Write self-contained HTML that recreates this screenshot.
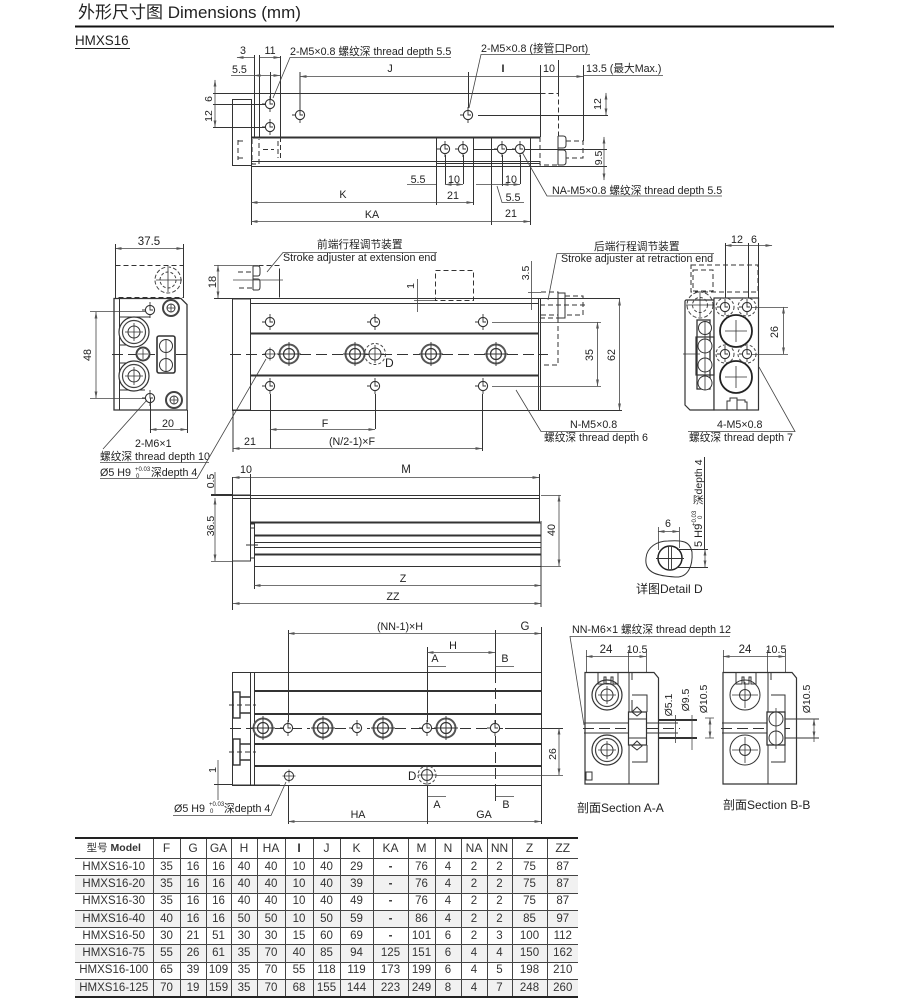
<!DOCTYPE html>
<html lang="zh">
<head>
<meta charset="utf-8">
<title>HMXS16 外形尺寸图 Dimensions</title>
<style>
html,body{margin:0;padding:0;background:#fff}
body{width:906px;height:1001px;position:relative;overflow:hidden;font-family:"Liberation Sans","Noto Sans CJK SC",sans-serif;color:#222}
svg{position:absolute;left:0;top:0}
text{font-family:"Liberation Sans","Noto Sans CJK SC",sans-serif;font-size:10.7px;fill:#222}
.m{text-anchor:middle}
.s{font-size:10.5px}
.l{fill:none;stroke:#333;stroke-width:1}
.t{fill:none;stroke:#333;stroke-width:2}
.f{fill:none;stroke:#444;stroke-width:.8}
.ds{fill:none;stroke:#333;stroke-width:1;stroke-dasharray:5 3}
.da{fill:none;stroke:#444;stroke-width:.8;marker-start:url(#a);marker-end:url(#a)}
.ce{fill:none;stroke:#333;stroke-width:1;stroke-dasharray:11 5}
table{position:absolute;left:75px;top:837px;width:503px;border-collapse:collapse;table-layout:fixed;border-top:2px solid #222;border-bottom:2px solid #222;font-size:11.5px}
td{padding:0;text-align:center;height:16.3px;line-height:15px;border-bottom:1px solid #444;border-left:1px solid #444;color:#333;white-space:nowrap;overflow:hidden}
td:first-child{border-left:none}
tr:first-child td{height:19px;font-size:12px}
tr:nth-child(odd):not(:first-child) td{background:#f1f1f1}
</style>
</head>
<body>
<svg width="906" height="1001" viewBox="0 0 906 1001" xmlns="http://www.w3.org/2000/svg">
<defs>
<marker id="a" markerWidth="7" markerHeight="4" refX="6.5" refY="2" orient="auto-start-reverse" markerUnits="userSpaceOnUse"><path d="M0 .6L7 2L0 3.4z" fill="#555"/></marker>
<g id="h"><circle r="4.6" fill="#fff" stroke="#333" stroke-width="1.1"/><path d="M0-8V0H3M-8 0H-4.6M0 4.6V8" fill="none" stroke="#333" stroke-width=".9"/></g>
<g id="b"><circle r="9.5" fill="#fff" stroke="#555" stroke-width="2"/><circle r="5.5" fill="none" stroke="#333" stroke-width="1.2"/><path d="M0-12V12M-12 0H12" stroke="#333" stroke-width=".9"/></g>
<g id="p"><circle r="4.6" fill="#fff" stroke="#333" stroke-width="1"/><path d="M0-6.5V6.5M-6.5 0H6.5" stroke="#333" stroke-width=".8"/></g>
<g id="c"><circle r="15" fill="#fff" stroke="#333" stroke-width="1.2"/><circle r="11.5" fill="none" stroke="#444" stroke-width="1.2"/><circle r="6" fill="none" stroke="#333" stroke-width="1"/><path d="M0-9V9M-9 0H9" stroke="#333" stroke-width=".8"/></g>
</defs>

<!-- header -->
<text x="78" y="18" style="font-size:17px">外形尺寸图 Dimensions (mm)</text>
<path d="M75 26.5H834" stroke="#111" stroke-width="2"/>
<text x="75" y="45" style="font-size:13.4px">HMXS16</text>
<path d="M75 48.5H130" stroke="#222"/>

<!-- ============ TOP VIEW ============ -->
<g>
<rect class="l" x="232.5" y="99.5" width="19" height="66"/>
<path class="l" d="M213 93.5H540M259.5 93.5V137M280.5 56V137M251.5 99V225M251 161.5H540M251 166.5H540M540.5 93V137"/>
<path class="t" d="M252 137.5H540"/>
<path class="l" d="M436.5 137V205M473.5 137V205M491.5 137V225M530.5 137V225M254.5 55V137M259.5 55V94M436 163.5H540"/>
<path class="ds" d="M280.5 137V161M540.5 93.5H558.5V137M540 137V165H558M263 149.5H274M238 140V160"/>
<path class="ds" d="M238 141h5M238 158h5M252 139v25h7v-25M278 141v17"/>
<path class="l" d="M558 136h5q3 0 3 3v6q0 3-3 3h-5M558 150h5q3 0 3 3v9q0 3-3 3h-5M558 136V165"/>
<path class="ds" d="M566 141H583V158H566"/>
<path class="l" d="M558.5 60V93M583.5 65V141"/>
<path class="l" d="M478 115.5H608M473 149.5H607M540 166.5H607M213 104.5H270M213 127.5H270"/>
<path class="ce" d="M536 149.5H578"/>
<path class="l" d="M300 72V115M270.5 72V100"/>
<use href="#h" x="270" y="104"/><use href="#h" x="270" y="127"/><use href="#h" x="300" y="115"/><use href="#h" x="468" y="115"/>
<use href="#h" x="445" y="149"/><use href="#h" x="463" y="149"/><use href="#h" x="502" y="149"/><use href="#h" x="520" y="149"/>
<path class="l" d="M445.5 155V184M463.5 155V184M502.5 155V186M520.5 155V184M468.5 72V108"/>

<text class="m" x="243" y="54">3</text><text class="m" x="270" y="54">11</text>
<path class="da" d="M237 57.5H254M259 57.5H280"/>
<text x="290" y="55">2-M5×0.8 螺纹深 thread depth 5.5</text>
<path class="f" d="M451 57.5H290L273 98"/>
<text x="232" y="73">5.5</text><path class="f" d="M231 75.5H254"/>
<path class="da" d="M254 75.5H280"/>
<text x="481" y="52">2-M5×0.8 (接管口Port)</text><path class="f" d="M590 54.5H481L469 108"/>
<path class="da" d="M300 76.5H468M468 76.5H540M540 76.5H558M558 76.5H583"/>
<path class="l" d="M540.5 65V93"/>
<text class="m" x="390" y="72">J</text><text class="m" x="503" y="72" style="font-weight:700">I</text><text class="m" x="549" y="72">10</text>
<text x="586" y="72">13.5 (最大Max.)</text><path class="f" d="M583 75.5H663"/>
<text class="m s" transform="translate(212 99) rotate(-90)">6</text>
<text class="m s" transform="translate(212 116) rotate(-90)">12</text>
<path class="da" d="M215 80V93M215 93V104M215 104V127"/>
<text class="m s" transform="translate(601 104) rotate(-90)">12</text><path class="da" d="M606 93V115"/>
<text class="m s" transform="translate(602 158) rotate(-90)">9.5</text><path class="da" d="M604 137V149M604 166V180"/><path class="f" d="M604 149V166"/>
<text class="m" x="418" y="183">5.5</text><path class="f" d="M407 184.5H436"/>
<text class="m" x="454" y="183">10</text><path class="da" d="M445 184.5H463"/>
<text class="m" x="511" y="183">10</text><path class="da" d="M502 184.5H520"/><path class="f" d="M476 184.5H502"/>
<text class="m" x="343" y="198">K</text><path class="da" d="M251 202.5H436M436 202.5H473"/>
<text class="m" x="453" y="199">21</text>
<text class="m" x="513" y="201">5.5</text><path class="f" d="M497 186L502 202.5H524"/>
<text class="m" x="372" y="218">KA</text><path class="da" d="M251 221.5H491M491 221.5H530"/>
<text class="m" x="511" y="217">21</text>
<text x="552" y="194">NA-M5×0.8 螺纹深 thread depth 5.5</text><path class="f" d="M522 152L547 196H722"/>
</g>

<!-- ============ END VIEW LEFT ============ -->
<g>
<text class="m" x="149" y="245" style="font-size:11.5px">37.5</text>
<path class="da" d="M115 248.5H183"/>
<path class="l" d="M115.5 244V298M183.5 244V298"/>
<rect class="ds" x="115.5" y="265.5" width="68" height="32"/>
<circle cx="168" cy="280" r="13" fill="none" stroke="#444" stroke-dasharray="4 2"/><circle cx="168" cy="280" r="8" fill="none" stroke="#444" stroke-dasharray="3 2"/>
<path d="M168 268V292M156 280H182" stroke="#333" stroke-width=".8"/>
<path d="M114 298.5H181L187 304.5V410H114Z" fill="#fff" stroke="#333" stroke-width="1.3"/>
<path class="l" d="M119.5 298.5V410M119 317H150M119 345H135M119 363H135M119 390H145"/>
<path class="f" d="M90 311.5H146M90 398.5H146"/>
<path class="ce" d="M112 354.5H190"/>
<use href="#h" x="150" y="310"/><use href="#h" x="150" y="398"/>
<g><circle cx="171" cy="308" r="8" fill="#fff" stroke="#444" stroke-width="2"/><circle cx="171" cy="308" r="4" fill="none" stroke="#333"/><path d="M167 308H175M171 304V312" stroke="#333" stroke-width=".8"/></g>
<g><circle cx="174" cy="400" r="8" fill="#fff" stroke="#444" stroke-width="2"/><circle cx="174" cy="400" r="4" fill="none" stroke="#333"/><path d="M170 400H178M174 396V404" stroke="#333" stroke-width=".8"/></g>
<use href="#c" x="134" y="332"/><use href="#c" x="134" y="376"/>
<circle cx="143" cy="354" r="6.5" fill="#fff" stroke="#444" stroke-width="2"/><path d="M143 349V359M138 354H148" stroke="#333" stroke-width=".8"/>
<rect x="157" y="336" width="18" height="37" rx="2" fill="#fff" stroke="#333" stroke-width="1.6"/>
<circle cx="166" cy="346" r="6.5" fill="#fff" stroke="#333"/><circle cx="166" cy="365" r="6.5" fill="#fff" stroke="#333"/><path d="M166 339V372" stroke="#333" stroke-width=".8"/>
<text class="m" transform="translate(91 355) rotate(-90)">48</text>
<path class="da" d="M96 312V398"/>
<text class="m" x="168" y="427">20</text><path class="da" d="M150 429.5H187"/>
<path class="l" d="M150.5 398V433M187.5 410V433"/>
<text x="135" y="447">2-M6×1</text>
<text x="100" y="460">螺纹深 thread depth 10</text>
<text x="100" y="476">Ø5 H9</text><text x="135" y="471" style="font-size:6px">+0.03</text><text x="136" y="478" style="font-size:6px">0</text><text x="151" y="476">深depth 4</text>
<path class="f" d="M103 449L147 400M100 478.5H197L266 359"/>
<path class="f" d="M100 462.5H209"/>
</g>

<!-- ============ SIDE VIEW MID ============ -->
<g>
<rect class="l" x="232.5" y="299" width="18" height="111"/>
<path class="l" d="M214 298.5H620M250 303.5H538M232 410.5H622M538.5 298V410M540.5 298V410"/>
<path class="t" d="M250 333.5H538M250 375.5H538"/>
<path class="ds" d="M238 272H253V288H238M258.5 265.5H279.5V298M279.5 272V295"/>
<path class="l" d="M253 266h5q2 0 2 3v4q0 3-2 3h-5M253 279h5q2 0 2 3v5q0 3-2 3h-5M253 266V290"/>
<path class="f" d="M214 265.5H258M233 280H283"/>
<text class="m" transform="translate(217 282) rotate(-90)" style="font-size:11px" dy="-1">18</text>
<path class="da" d="M218 265V298"/>
<text x="317" y="248">前端行程调节装置</text>
<path class="f" d="M437 252.5H283L267 272"/>
<text x="283" y="261">Stroke adjuster at extension end</text>
<rect class="ds" x="435.5" y="270.5" width="38" height="30"/>
<path class="f" d="M414 300.5H435"/>
<text class="m s" transform="translate(414 286) rotate(-90)">1</text>
<path class="f" d="M417.5 279V312"/>
<text class="m s" transform="translate(529 273) rotate(-90)">3.5</text>
<path class="f" d="M531.5 261V310M528 292.5H541"/>
<path class="ds" d="M541 292H558V318H541M541 315H558M558 318V365H541M565 296H583V315H565M540 305H585"/>
<path class="l" d="M558 293H565V318H558Z"/>
<text x="594" y="250">后端行程调节装置</text>
<path class="f" d="M714 253.5H557L548 300"/>
<text x="561" y="262">Stroke adjuster at retraction end</text>
<path class="ce" d="M230 354.5H280M300 354.5H345M365 354.5H420M442 354.5H486M507 354.5H548"/>
<use href="#h" x="270" y="322"/><use href="#h" x="375" y="322"/><use href="#h" x="483" y="322"/>
<use href="#h" x="270" y="386"/><use href="#h" x="375" y="386"/><use href="#h" x="483" y="386"/>
<use href="#p" x="270" y="354"/>
<use href="#b" x="289" y="354"/><use href="#b" x="355" y="354"/><use href="#b" x="431" y="354"/><use href="#b" x="496" y="354"/>
<circle cx="375" cy="354" r="6" fill="#fff" stroke="#333"/><circle cx="375" cy="354" r="10.5" fill="none" stroke="#444" stroke-dasharray="3 2"/><path d="M375 345V363M366 354H384" stroke="#333" stroke-width=".8"/>
<text x="385" y="367" style="font-size:12px">D</text>
<path class="f" d="M492 322.5H601M492 386.5H601"/>
<text class="m" transform="translate(593 355) rotate(-90)">35</text><path class="da" d="M597.5 322V386"/>
<text class="m" transform="translate(615 355) rotate(-90)">62</text><path class="da" d="M619.5 299V410"/>
<path class="l" d="M270.5 394V449M375.5 394V429M482.5 394V451M233 410V452"/>
<text class="m" x="325" y="427">F</text><path class="da" d="M270 429.5H375"/>
<text class="m" x="250" y="445">21</text><path class="da" d="M233 448.5H270M270 448.5H482"/>
<text class="m" x="352" y="445">(N/2-1)×F</text>
<text x="570" y="428">N-M5×0.8</text>
<path class="f" d="M516 390L541 431.5H635"/>
<text x="544" y="441">螺纹深 thread depth 6</text>
</g>

<!-- ============ RIGHT END VIEW ============ -->
<g>
<text class="m" x="737" y="243">12</text><text class="m" x="754" y="243">6</text>
<path class="da" d="M725 245.5H748M758 245.5H772"/><path class="f" d="M748 245.5H758"/>
<path class="l" d="M725.5 243V298M748.5 243V298M758.5 243V298"/>
<rect class="ds" x="691" y="265" width="67" height="27"/>
<rect class="ds" x="693" y="270" width="20" height="21"/>
<path d="M686 300H714V410H690L685 405V301Z" fill="#fff" stroke="#333" stroke-width="1.2"/>
<rect x="714" y="298" width="44.5" height="112" fill="#fff" stroke="#333" stroke-width="1.2"/>
<circle cx="700" cy="305" r="13" fill="none" stroke="#444" stroke-dasharray="4 2"/><circle cx="700" cy="305" r="7.5" fill="none" stroke="#444" stroke-dasharray="3 2"/>
<path d="M686 305H714M700 293V317" stroke="#333" stroke-width=".8"/>
<rect x="697" y="320" width="13" height="69" fill="#fff" stroke="#333" stroke-width="1.3"/>
<rect x="696" y="337" width="18" height="38" fill="none" stroke="#333" stroke-width="1.2"/>
<g fill="#fff" stroke="#333"><circle cx="705" cy="328" r="6.5"/><circle cx="705" cy="346" r="7"/><circle cx="705" cy="365" r="7"/><circle cx="705" cy="383" r="7"/></g>
<path d="M705 321V390M683 354H700" stroke="#333" stroke-width=".8"/>
<circle cx="736" cy="331" r="16" fill="#fff" stroke="#222" stroke-width="1.8"/><circle cx="736" cy="377" r="16" fill="#fff" stroke="#222" stroke-width="1.8"/>
<g fill="none" stroke="#444" stroke-dasharray="3 2"><circle cx="725" cy="307" r="9"/><circle cx="747" cy="307" r="9"/><circle cx="725" cy="354" r="9"/><circle cx="747" cy="354" r="9"/></g>
<use href="#h" x="725" y="307"/><use href="#h" x="747" y="307"/><use href="#h" x="725" y="354"/><use href="#h" x="747" y="354"/>
<path d="M736 320V342M725 331H747M736 366V388M725 377H747" stroke="#333" stroke-width=".8"/>
<path class="l" d="M727 410V401H730V398H737V410M737 410V400H745V402H747V410"/>
<path class="f" d="M752 307.5H788M752 354.5H788"/>
<text class="m" transform="translate(778 332) rotate(-90)">26</text><path class="da" d="M783.5 307V354"/>
<text x="717" y="428">4-M5×0.8</text>
<path class="f" d="M759 367L795 431.5H688"/>
<text x="689" y="441">螺纹深 thread depth 7</text>
</g>

<!-- ============ FRONT LOWER (SIDE) ============ -->
<g>
<rect class="l" x="232.5" y="495" width="18" height="66"/>
<path class="l" d="M232 495.5H539M232 498.5H539M539.5 474V523M232.5 477V610M250.5 474V495"/>
<path class="t" d="M250 522.5H539"/>
<rect class="l" x="254.5" y="523" width="286.5" height="43.5"/>
<path class="l" d="M250 524H254M250 558H254M250 528H254M246 545H258M254.5 566V589M541 566V607M541 521V523"/>
<path class="l" d="M254 542.5H541M254 547.5H541"/>
<path class="t" d="M254 535.5H541M254 554.5H541"/>
<text class="m" x="246" y="473">10</text><text class="m" x="406" y="473" style="font-size:11.5px">M</text>
<path class="da" d="M233 477.5H250M250 477.5H539"/>
<text class="m s" transform="translate(214 481) rotate(-90)">0.5</text>
<text class="m s" transform="translate(214 526) rotate(-90)">36.5</text>
<path class="t" d="M211 495H232"/>
<path class="f" d="M211 561.5H232"/>
<path class="da" d="M215 498V561"/><path class="f" d="M215 472V495"/>
<path class="f" d="M541 495.5H561M541 566.5H561"/>
<text class="m" transform="translate(555 530) rotate(-90)">40</text><path class="da" d="M559 495V566"/>
<text class="m" x="403" y="582">Z</text><path class="da" d="M254 585.5H541"/>
<text class="m" x="393" y="600">ZZ</text><path class="da" d="M233 603.5H541"/>
</g>

<!-- ============ DETAIL D ============ -->
<g>
<text class="m" x="668" y="527">6</text>
<path class="da" d="M658 531.5H679"/>
<path class="f" d="M658.5 527V550M679.5 527V548"/>
<path class="l" d="M646 558C647 547 657 541 668 541C682 540 690 541 692 552C693 566 688 578 675 577C660 576 644 574 646 558Z"/>
<circle cx="670" cy="558" r="12" fill="#fff" stroke="#222" stroke-width="1.5"/>
<path d="M668.5 547V569M671.5 547V569M656 558.5H684" stroke="#333" stroke-width=".9"/>
<text transform="translate(702 547) rotate(-90)" style="font-size:11px">5 H9</text>
<text transform="translate(696 526) rotate(-90)" style="font-size:6px">+0.03</text>
<text transform="translate(702 519) rotate(-90)" style="font-size:6px">0</text>
<text transform="translate(702 505) rotate(-90)" style="font-size:10.5px">深depth 4</text>
<path class="l" d="M704.5 457V549M677 549.5H708M677 567.5H708"/>
<path class="da" d="M705 549V567"/>
<text x="636" y="593" style="font-size:12px">详图Detail D</text>
</g>

<!-- ============ LOWER VIEW ============ -->
<g>
<rect class="l" x="232.5" y="672.5" width="309" height="113"/>
<path class="l" d="M250.5 672V785M254.5 672V785"/>
<path class="t" d="M254 691H541M254 714H541M254 744H541M254 766H541"/>
<rect x="233" y="692" width="7" height="26" fill="#fff" stroke="#333" stroke-width="1.4"/>
<rect x="233" y="739" width="7" height="26" fill="#fff" stroke="#333" stroke-width="1.4"/>
<path d="M240 697H250M240 713H250M240 744H250M240 760H250" stroke="#333" stroke-width="1.4"/>
<path class="ds" d="M229 705H256M229 752H256"/>
<path class="l" d="M214 784.5H232M232 785H280"/>
<path class="ce" d="M230 728.5H275M275 728.5H310M335 728.5H370M395 728.5H436M460 728.5H505"/>
<path class="l" d="M505 728.5H563"/>
<path class="l" d="M288.5 630V722M427.5 647V722M495.5 630V672"/>
<path class="ce" d="M495.5 672V790"/>
<path class="l" d="M541.5 627V672M288.5 786V824M427.5 786V824M541.5 786V824M495.5 790V801"/>
<use href="#h" x="288" y="728"/><use href="#h" x="357" y="728"/><use href="#h" x="427" y="728"/><use href="#h" x="495" y="728"/>
<use href="#b" x="263" y="728"/><use href="#b" x="323" y="728"/><use href="#b" x="383" y="728"/><use href="#b" x="446" y="728"/>
<use href="#p" x="289" y="776"/>
<circle cx="427" cy="775" r="5.5" fill="#fff" stroke="#333"/><circle cx="427" cy="775" r="9" fill="none" stroke="#444" stroke-dasharray="3 2"/><path d="M418 775H436M427 766V785" stroke="#333" stroke-width=".8"/>
<text x="408" y="780" style="font-size:11.5px">D</text>
<path class="f" d="M436 775.5H563"/>
<text class="m" x="400" y="630">(NN-1)×H</text>
<path class="da" d="M288 633.5H495M495 633.5H541"/>
<text class="m" x="525" y="630" style="font-size:11.5px">G</text>
<text class="m" x="453" y="649">H</text><path class="da" d="M427 652.5H495"/>
<text class="m" x="435" y="662">A</text><text class="m" x="505" y="662">B</text>
<path class="f" d="M427 666.5H446M495 666.5H514"/>
<text class="m" transform="translate(557 754) rotate(-90)" style="font-size:10.5px" dy="-1">26</text>
<path class="da" d="M559 728V775"/>
<text class="m s" transform="translate(216 770) rotate(-90)">1</text>
<path class="f" d="M218 760V800"/>
<path class="f" d="M427 796.5H446M495 796.5H514"/>
<text class="m" x="437" y="808">A</text><text class="m" x="506" y="808">B</text>
<text class="m" x="358" y="818">HA</text><text class="m" x="484" y="818">GA</text>
<path class="da" d="M288 821.5H427M427 821.5H541"/>
<text x="174" y="812">Ø5 H9</text><text x="209" y="806" style="font-size:6px">+0.03</text><text x="210" y="813" style="font-size:6px">0</text><text x="224" y="812">深depth 4</text>
<path class="f" d="M173 815.5H271L286 782"/>
</g>

<!-- ============ SECTIONS ============ -->
<g>
<text x="572" y="633">NN-M6×1 螺纹深 thread depth 12</text>
<path class="f" d="M730 636.5H570L584 725"/>
<text class="m" x="606" y="653" style="font-size:11.5px">24</text><text class="m" x="637" y="653">10.5</text>
<path class="da" d="M586 656.5H628M628 656.5H646"/>
<path class="f" d="M586.5 650V672M628.5 650V672M646.5 650V712"/>
<path d="M585 672.5H654L658.5 678V784H585Z" fill="#fff" stroke="#333" stroke-width="1.2"/>
<path class="l" d="M629 672.5V712M629 745V784M632 695H647V712M632 762H647V745M632 672V680M632 700V712"/>
<use href="#c" x="607" y="695"/><use href="#c" x="607" y="750"/>
<path class="l" d="M598 672V684H604V677H606V684H611V677H613V684H618V672"/>
<rect class="l" x="586" y="772" width="6" height="8"/>
<path class="ce" d="M583 728.5H680"/>
<path class="l" d="M584 723H678M584 733H678"/>
<path class="t" d="M658 720H697M658 738H697"/>
<rect x="628.5" y="712" width="18" height="33" fill="#fff" stroke="#333" stroke-width="1.2"/>
<path class="l" d="M628 719H646M628 738H646"/>
<path class="l" d="M637 707L642 712L637 716L632 712ZM637 741L642 746L637 750L632 746Z" fill="#fff"/>
<path class="f" d="M675.5 715V743M692 715V750M705 718H714M705 738H714"/>
<path class="da" d="M710 718V738"/>
<text class="m s" transform="translate(672 705) rotate(-90)">Ø5.1</text>
<text class="m s" transform="translate(689 700) rotate(-90)">Ø9.5</text>
<text class="m s" transform="translate(707 699) rotate(-90)">Ø10.5</text>

<text class="m" x="745" y="653" style="font-size:11.5px">24</text><text class="m" x="776" y="653">10.5</text>
<path class="da" d="M723 656.5H767M767 656.5H785"/>
<path class="f" d="M723.5 650V672M767.5 650V672M785.5 650V712"/>
<path d="M723 672.5H792L796.5 678V784H723Z" fill="#fff" stroke="#333" stroke-width="1.2"/>
<path class="l" d="M768 672.5V712M768 745V784M771 695H785V712M771 762H785V745M771 672V680"/>
<g fill="#fff" stroke="#333"><circle cx="745" cy="695" r="15"/><circle cx="745" cy="695" r="5.5"/><circle cx="745" cy="750" r="15"/><circle cx="745" cy="750" r="5.5"/></g>
<path d="M745 682V708M732 695H758M745 737V763M732 750H758" stroke="#333" stroke-width=".8"/>
<path class="l" d="M736 672V684H742V677H744V684H749V677H751V684H756V672"/>
<path class="ce" d="M721 728.5H790"/>
<path class="l" d="M722 723H767M722 733H767M785 719H819M785 738H819"/>
<rect x="767" y="712" width="18" height="33" fill="#fff" stroke="#333" stroke-width="1.3"/>
<circle cx="776" cy="719" r="7" fill="#fff" stroke="#333"/><circle cx="776" cy="738" r="7" fill="#fff" stroke="#333"/>
<path d="M776 708V749" stroke="#333" stroke-width=".8"/>
<path class="da" d="M814 719V738"/><path class="f" d="M814 738V742"/>
<text class="m s" transform="translate(810 699) rotate(-90)">Ø10.5</text>

<text x="577" y="812" style="font-size:12px">剖面Section A-A</text>
<text x="723" y="809" style="font-size:12px">剖面Section B-B</text>
</g>
</svg>

<table>
<colgroup><col style="width:78px"><col style="width:27px"><col style="width:26px"><col style="width:25px"><col style="width:26px"><col style="width:28px"><col style="width:28px"><col style="width:27px"><col style="width:33px"><col style="width:35px"><col style="width:27px"><col style="width:26px"><col style="width:26px"><col style="width:25px"><col style="width:35px"><col style="width:31px"></colgroup>
<tr><td style="font-size:10.5px"><b style="font-weight:400">型号</b> <b>Model</b></td><td>F</td><td>G</td><td>GA</td><td>H</td><td>HA</td><td><b>I</b></td><td>J</td><td>K</td><td>KA</td><td>M</td><td>N</td><td>NA</td><td>NN</td><td>Z</td><td>ZZ</td></tr>
<tr><td>HMXS16-10</td><td>35</td><td>16</td><td>16</td><td>40</td><td>40</td><td>10</td><td>40</td><td>29</td><td><b>-</b></td><td>76</td><td>4</td><td>2</td><td>2</td><td>75</td><td>87</td></tr>
<tr><td>HMXS16-20</td><td>35</td><td>16</td><td>16</td><td>40</td><td>40</td><td>10</td><td>40</td><td>39</td><td><b>-</b></td><td>76</td><td>4</td><td>2</td><td>2</td><td>75</td><td>87</td></tr>
<tr><td>HMXS16-30</td><td>35</td><td>16</td><td>16</td><td>40</td><td>40</td><td>10</td><td>40</td><td>49</td><td><b>-</b></td><td>76</td><td>4</td><td>2</td><td>2</td><td>75</td><td>87</td></tr>
<tr><td>HMXS16-40</td><td>40</td><td>16</td><td>16</td><td>50</td><td>50</td><td>10</td><td>50</td><td>59</td><td><b>-</b></td><td>86</td><td>4</td><td>2</td><td>2</td><td>85</td><td>97</td></tr>
<tr><td>HMXS16-50</td><td>30</td><td>21</td><td>51</td><td>30</td><td>30</td><td>15</td><td>60</td><td>69</td><td><b>-</b></td><td>101</td><td>6</td><td>2</td><td>3</td><td>100</td><td>112</td></tr>
<tr><td>HMXS16-75</td><td>55</td><td>26</td><td>61</td><td>35</td><td>70</td><td>40</td><td>85</td><td>94</td><td>125</td><td>151</td><td>6</td><td>4</td><td>4</td><td>150</td><td>162</td></tr>
<tr><td>HMXS16-100</td><td>65</td><td>39</td><td>109</td><td>35</td><td>70</td><td>55</td><td>118</td><td>119</td><td>173</td><td>199</td><td>6</td><td>4</td><td>5</td><td>198</td><td>210</td></tr>
<tr><td>HMXS16-125</td><td>70</td><td>19</td><td>159</td><td>35</td><td>70</td><td>68</td><td>155</td><td>144</td><td>223</td><td>249</td><td>8</td><td>4</td><td>7</td><td>248</td><td>260</td></tr>
</table>
</body>
</html>
